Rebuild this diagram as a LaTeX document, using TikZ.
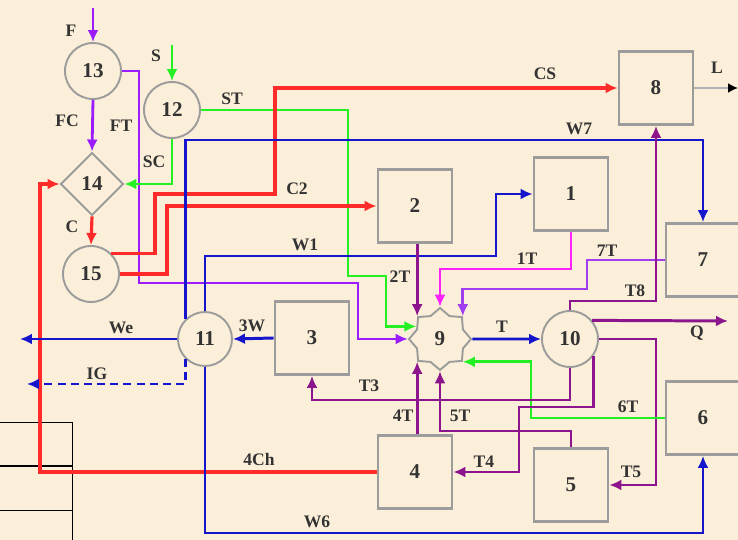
\documentclass[tikz,border=0pt]{standalone}
\usepackage{fontspec}
\setmainfont{Liberation Serif}
\usepackage{tikz}
\usetikzlibrary{arrows.meta,positioning,calc,shapes.geometric}
\definecolor{bgc}{HTML}{FCEFD9}
\definecolor{boxc}{HTML}{9C9C9C}
\definecolor{txtc}{HTML}{333333}
\definecolor{redc}{HTML}{FF2A2A}
\definecolor{bluc}{HTML}{1515CC}
\definecolor{grnc}{HTML}{22F022}
\definecolor{vioc}{HTML}{9A1CFF}
\definecolor{lvic}{HTML}{A23CF0}
\definecolor{magc}{HTML}{FF22FF}
\definecolor{purc}{HTML}{8C148C}
\tikzset{
  >={Latex[length=2.4mm,width=2.2mm]},
  num/.style={font=\bfseries\fontsize{12}{14}\selectfont,text=txtc},
  blk/.style={num,draw=boxc,line width=1.6pt,minimum width=1.48cm,minimum height=1.46cm,inner sep=0pt},
  rnd/.style={num,circle,draw=boxc,line width=1.1pt,minimum size=1.12cm,inner sep=0pt},
  dia/.style={num,diamond,aspect=1,draw=boxc,line width=1.1pt,minimum size=1.26cm,inner sep=0pt},
  mix/.style={num,star,star points=8,star point ratio=1.25,draw=boxc,line width=1.1pt,minimum size=1.24cm,inner sep=0pt},
  lab/.style={font=\bfseries\fontsize{10}{12}\selectfont,text=txtc,inner sep=1pt},
  rf/.style={->,line width=1.8pt,draw=redc},
  bf/.style={->,line width=1.7pt,draw=bluc},
  gf/.style={->,line width=1.5pt,draw=grnc},
  vf/.style={->,line width=1.6pt,draw=vioc},
  lf/.style={->,line width=1.6pt,draw=lvic},
  mf/.style={->,line width=1.6pt,draw=magc},
  pf/.style={->,line width=1.7pt,draw=purc},
}
\newcommand{\blk}[3]{\node[blk] (#1) at (#2) {#3};}

\begin{document}
\begin{tikzpicture}[x=0.02cm,y=-0.02cm]
  \fill[bgc] (0,0) rectangle (738,540);
  \useasboundingbox (0,0) rectangle (738,540);
  % table fragment
  \draw[black,line width=0.5pt] (0,422) -- (72,422) -- (72,540) (0,510) -- (72,510);
  \draw[black,line width=0.9pt] (0,466) -- (72,466);
  % units
  \node[rnd] (n13) at (93,71) {13};
  \node[rnd] (n12) at (172,110) {12};
  \node[dia] (n14) at (92,184) {14};
  \node[rnd] (n15) at (91,274) {15};
  \node[rnd,minimum size=1.08cm] (n11) at (205,339) {11};
  \node[rnd] (n10) at (570,339) {10};
  \node[mix] (n9) at (440,339) {9};
  \blk{n1}{571,194}{1}
  \blk{n2}{415,206}{2}
  \blk{n3}{312,338}{3}
  \blk{n4}{415,472}{4}
  \blk{n5}{571,485}{5}
  \blk{n6}{703,418}{6}
  \blk{n7}{703,260}{7}
  \blk{n8}{656,88}{8}
  \coordinate (fin) at (93,8);
  \coordinate (sin) at (172,45);
  \coordinate (wend) at (20,339);
  \coordinate (gend) at (27,384);
  \coordinate (qend) at (728,321);
  \coordinate (lend) at (738,88);
  % feed side
  \draw[vf] (fin) -- (n13.north);
  \draw[vf] (n13.south) -- (n14.north);
  \draw[vf] (n13.east) -| (139,283) -| (358,320) |- (n9.west);
  \draw[gf] (sin) -- (n12.north);
  \draw[gf] (n12.south) |- (n14.east);
  \draw[gf] (n12.east) -| (348,276) -- (386,276) |- (n9.152);
  \draw[rf] (n14.south) -- (n15.north);
  \draw[rf] (n15.45) -| (155,194) -| (275,120) |- (n8.west);
  \draw[rf] (n15.east) -| (167,240) |- (n2.west);
  \draw[rf] (n4.west) -| (40,300) |- (n14.west);
  % water
  \draw[bf] (n11.north west) |- (600,140) -| (n7.north);
  \draw[bf] (n11.north) |- (450,256) -| (496,220) |- (n1.west);
  \draw[bf] (n11.west) -- (wend);
  \draw[bf] (n3.west) -- (n11.east);
  \draw[bf,dash pattern=on 4.5pt off 3pt] (n11.south west) |- (gend);
  \draw[bf] (n11.south) |- (600,533) -| (n6.south);
  \draw[bf] (n9.east) -- (n10.west);
  % T streams
  \draw[pf] (n9.135 |- n2.south) -- (n9.135);
  \draw[mf] (n1.south) |- (500,269) -| (n9.north);
  \draw[lf] (n7.west) -| (587,289) -| (n9.45);
  \draw[pf] (n10.north) |- (620,301) -| (n8.south);
  \draw[pf] (n10.40) -- (qend);
  \draw[pf] (n10.east) -| (656,400) |- (n5.east);
  \draw[gf] (n6.west) -| (531,380) |- (n9.315);
  \draw[pf] (n10.south) |- (450,400) -| (n3.south);
  \draw[pf] (n10.-35) |- (560,407) -| (519,440) |- (n4.east);
  \draw[pf] (n5.north) |- (500,431) -| (n9.south);
  \draw[pf] (n9.225 |- n4.north) -- (n9.225);
  \draw[line width=1pt,draw=boxc!80,-{Latex[length=2mm,width=2mm,color=black]}] (n8.east) -- (lend);
  % labels
  \foreach \t/\p [count=\i] in {F/{71,31},FC/{67,121},FT/{121,126},S/{156,56},SC/{154,162},
      ST/{232,99},C/{72,227},CS/{545,74},C2/{297,189},W7/{579,129},W1/{305,245},
      2T/{400,277},1T/{527,259},7T/{607,251},T8/{635,291},Q/{697,333},T/{502,327},
      We/{121,328},3W/{252,326},IG/{97,374},T3/{369,386},4T/{403,416},5T/{460,416},
      6T/{628,407},T4/{484,462},T5/{631,472},4Ch/{259,459},W6/{317,522},L/{717,68}}
    \node[lab] (lb\i) at (\p) {\t};
\end{tikzpicture}
\end{document}
